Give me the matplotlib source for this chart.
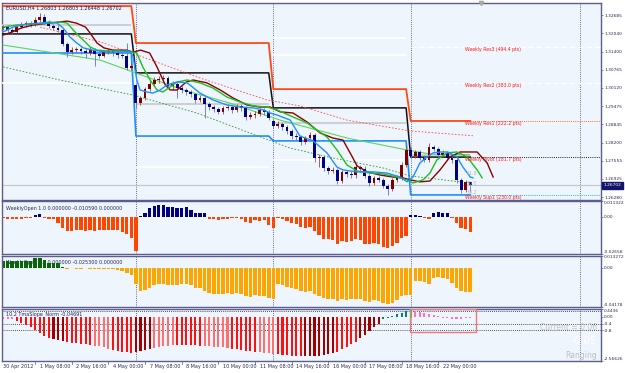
import matplotlib
matplotlib.use("Agg")
import matplotlib.pyplot as plt
from matplotlib.transforms import blended_transform_factory
from matplotlib.patches import Rectangle

plt.rcParams['font.family'] = ['DejaVu Sans']

# ---------------------------------------------------------------- data
title_text = "EURUSD,H4 1.26803 1.26803 1.26448 1.26702"

opens = [1.32158, 1.32228, 1.32263, 1.32158, 1.32088, 1.32263, 1.32334, 1.32404, 1.32334, 1.32509,
         1.32615, 1.32439, 1.32298, 1.32228, 1.32158, 1.31666, 1.31384, 1.31455, 1.31490, 1.31420,
         1.31349, 1.31455, 1.31314, 1.31244, 1.31384, 1.31420, 1.31349, 1.31279, 1.31244, 1.30822,
         1.30224, 1.29592, 1.29767, 1.30084, 1.30260, 1.30400, 1.30435, 1.30471, 1.30189, 1.30260,
         1.30119, 1.30049, 1.29978, 1.29908, 1.29697, 1.29767, 1.29556, 1.29451, 1.29381, 1.29275,
         1.29416, 1.29451, 1.29345, 1.29486, 1.29416, 1.29099, 1.29170, 1.29205, 1.29345, 1.29275,
         1.28959, 1.28783, 1.28853, 1.28748, 1.28607, 1.28431, 1.28396, 1.28220, 1.28361, 1.28466,
         1.27658, 1.27693, 1.27306, 1.27201, 1.27236, 1.26849, 1.27166, 1.27095, 1.27060, 1.27341,
         1.27271, 1.27025, 1.26779, 1.26955, 1.26884, 1.26673, 1.26568, 1.26884, 1.26955, 1.27412,
         1.27939, 1.27728, 1.27869, 1.27658, 1.27588, 1.28045, 1.27974, 1.27763, 1.27834, 1.27658,
         1.27588, 1.26884, 1.26533, 1.26803]
closes = [1.32228, 1.32263, 1.32158, 1.32088, 1.32263, 1.32334, 1.32404, 1.32334, 1.32509, 1.32615,
          1.32439, 1.32298, 1.32228, 1.32158, 1.31666, 1.31384, 1.31455, 1.31490, 1.31420, 1.31349,
          1.31455, 1.31314, 1.31244, 1.31384, 1.31420, 1.31349, 1.31279, 1.31244, 1.30822, 1.30892,
          1.29592, 1.29767, 1.30084, 1.30260, 1.30400, 1.30435, 1.30471, 1.30189, 1.30260, 1.30119,
          1.30049, 1.29978, 1.29908, 1.29697, 1.29767, 1.29556, 1.29451, 1.29381, 1.29275, 1.29416,
          1.29451, 1.29345, 1.29486, 1.29416, 1.29099, 1.29170, 1.29205, 1.29345, 1.29275, 1.29064,
          1.28783, 1.28853, 1.28748, 1.28607, 1.28431, 1.28396, 1.28220, 1.28361, 1.28466, 1.27658,
          1.27693, 1.27306, 1.27201, 1.27236, 1.26849, 1.27166, 1.27095, 1.27060, 1.27341, 1.27271,
          1.27025, 1.26779, 1.26955, 1.26884, 1.26673, 1.26568, 1.26884, 1.26955, 1.27412, 1.27939,
          1.27728, 1.27869, 1.27658, 1.27588, 1.28045, 1.27974, 1.27763, 1.27834, 1.27658, 1.27588,
          1.26884, 1.26533, 1.26803, 1.26702]
highs = [1.32298, 1.32334, 1.32334, 1.32228, 1.32369, 1.32439, 1.32474, 1.32474, 1.32615, 1.32755,
         1.32720, 1.32509, 1.32369, 1.32334, 1.32228, 1.31736, 1.31560, 1.31560, 1.31560, 1.31525,
         1.31560, 1.31525, 1.31420, 1.31455, 1.31490, 1.31490, 1.31455, 1.31384, 1.31701, 1.30998,
         1.30260, 1.29838, 1.30154, 1.30400, 1.30506, 1.30541, 1.30576, 1.30541, 1.30365, 1.30330,
         1.30189, 1.30119, 1.30049, 1.29943, 1.29873, 1.29838, 1.29627, 1.29521, 1.29451, 1.29486,
         1.29556, 1.29521, 1.29556, 1.29556, 1.29486, 1.29275, 1.29310, 1.29416, 1.29416, 1.29345,
         1.29029, 1.28959, 1.28924, 1.28818, 1.28677, 1.28537, 1.28466, 1.28431, 1.28572, 1.28537,
         1.27798, 1.27763, 1.27377, 1.27341, 1.27306, 1.27236, 1.27236, 1.27201, 1.27447, 1.27412,
         1.27377, 1.27095, 1.27025, 1.27025, 1.26955, 1.26744, 1.26955, 1.27060, 1.27517, 1.28115,
         1.28045, 1.27939, 1.27939, 1.27763, 1.28185, 1.28115, 1.28045, 1.27939, 1.27904, 1.27763,
         1.27658, 1.26955, 1.26884, 1.26803]
lows = [1.32123, 1.32158, 1.32088, 1.32017, 1.32052, 1.32228, 1.32263, 1.32263, 1.32298, 1.32439,
        1.32369, 1.32228, 1.32158, 1.32088, 1.31595, 1.31209, 1.31314, 1.31384, 1.31314, 1.31174,
        1.31279, 1.30892, 1.31174, 1.31209, 1.31314, 1.31244, 1.31174, 1.31174, 1.30752, 1.30752,
        1.29416, 1.29521, 1.29697, 1.30013, 1.30189, 1.30295, 1.30330, 1.30119, 1.30049, 1.29767,
        1.29943, 1.29873, 1.29802, 1.29592, 1.29627, 1.29064, 1.29345, 1.29275, 1.29205, 1.29205,
        1.29345, 1.29240, 1.29275, 1.29310, 1.28994, 1.29029, 1.29064, 1.29134, 1.29170, 1.28994,
        1.28713, 1.28713, 1.28642, 1.28502, 1.28326, 1.28291, 1.28115, 1.28150, 1.28291, 1.27517,
        1.27341, 1.27201, 1.27095, 1.27130, 1.26744, 1.26779, 1.26990, 1.26955, 1.26955, 1.27166,
        1.26955, 1.26673, 1.26708, 1.26814, 1.26603, 1.26357, 1.26497, 1.26814, 1.26884, 1.27341,
        1.27658, 1.27658, 1.27588, 1.27517, 1.27517, 1.27904, 1.27693, 1.27693, 1.27588, 1.27482,
        1.26779, 1.26427, 1.26462, 1.26448]
last_price = 1.26702

# moving averages (bar position, price)
ma_slow_x = [1, 3, 5, 7.5, 11, 15, 17, 19, 20, 21.5, 23, 25, 28, 29.4, 31, 33, 34.6, 36.4, 37.5, 39,
             41, 42.5, 45.5, 48.4, 51.2, 54.3, 57, 59.3, 61.5, 64.3, 67.4, 70.2, 73, 75.2, 76.8,
             78.3, 80.5, 83.3, 86.1, 88.3, 89.9, 92, 94.2, 96.4, 98.6, 100.8, 104.5, 106.7, 108]
ma_slow_y = [1.3198, 1.3209, 1.3223, 1.3233, 1.3240, 1.3247, 1.3240, 1.3226, 1.3205, 1.3170,
             1.3153, 1.3145, 1.3145, 1.3138, 1.3145, 1.3135, 1.3086, 1.3023, 1.3005, 1.3005,
             1.3033, 1.3040, 1.3030, 1.3005, 1.2977, 1.2952, 1.2945, 1.2945, 1.2928, 1.2924,
             1.2892, 1.2854, 1.2836, 1.2829, 1.2783, 1.2738, 1.2717, 1.2706, 1.2699, 1.2696,
             1.2689, 1.2682, 1.2685, 1.2724, 1.2770, 1.2787, 1.2787, 1.2748, 1.2699]
ma_mid_x = [1, 4, 7.5, 11.2, 13.4, 15, 16.3, 17.8, 18.9, 20, 21.5, 24.3, 28, 29.4, 30.2, 31.5, 33.1,
            34.6, 35.9, 37.5, 39, 41.2, 44, 46.8, 49.9, 52.7, 55.6, 58.6, 60.8, 64.3, 67.4, 69.5,
            71.7, 73.9, 76.1, 78.3, 81.1, 83.9, 87, 89.2, 90.5, 92.7, 94.2, 95.7, 97.9, 100.1,
            102.3, 104.5, 105.6]
ma_mid_y = [1.3226, 1.3233, 1.3237, 1.3240, 1.3244, 1.3240, 1.3216, 1.3191, 1.3174, 1.3156,
            1.3145, 1.3142, 1.3142, 1.3138, 1.3135, 1.3086, 1.3040, 1.3005, 1.2998, 1.3016,
            1.3033, 1.3040, 1.3030, 1.3012, 1.2980, 1.2963, 1.2949, 1.2945, 1.2935, 1.2910,
            1.2889, 1.2864, 1.2840, 1.2794, 1.2741, 1.2720, 1.2713, 1.2710, 1.2699, 1.2689,
            1.2678, 1.2689, 1.2713, 1.2759, 1.2784, 1.2787, 1.2770, 1.2724, 1.2696]
ma_fast_x = [1, 3.2, 6.2, 9.1, 11.2, 12.8, 14.1, 15.6, 17.1, 18.5, 20.6, 23.7, 26.5, 28.7, 29.4,
             30.2, 30.9, 32.4, 33.7, 35.3, 36.8, 39, 41.2, 44, 46.8, 49.9, 52.7, 55.6, 57.8, 59.3,
             60.8, 63.7, 65.8, 68.7, 71.7, 73.9, 75.2, 78.3, 81.8, 84.8, 87.7, 89.2, 90.5, 92,
             93.6, 94.9, 96.4, 98.1, 100.1, 101.4, 103, 103.6]
ma_fast_y = [1.3209, 1.3226, 1.3237, 1.3240, 1.3244, 1.3240, 1.3223, 1.3191, 1.3170, 1.3153,
             1.3145, 1.3138, 1.3138, 1.3142, 1.3121, 1.3040, 1.3005, 1.2998, 1.2994, 1.3005,
             1.3023, 1.3033, 1.3030, 1.2994, 1.2970, 1.2952, 1.2945, 1.2942, 1.2935, 1.2924,
             1.2917, 1.2899, 1.2843, 1.2826, 1.2784, 1.2734, 1.2724, 1.2717, 1.2717, 1.2713,
             1.2699, 1.2682, 1.2699, 1.2748, 1.2770, 1.2784, 1.2787, 1.2787, 1.2770, 1.2734,
             1.2699, 1.2696]
ma_long_x = [1, 15, 22.2, 29.4, 40.3, 50.5, 61.5, 76.1, 89.2, 94.2, 102.9]
ma_long_y = [1.3163, 1.3128, 1.3110, 1.3068, 1.3005, 1.2959, 1.2899, 1.2836, 1.2794, 1.2780, 1.2777]
env_low_x = [1, 13.4, 29.4, 43.3, 63.6, 73, 83.9, 89.8, 102.9]
env_low_y = [1.3086, 1.3040, 1.2987, 1.2924, 1.2801, 1.2766, 1.2731, 1.2703, 1.2678]
env_high_x = [9.1, 22.2, 31.5, 44, 58.6, 65.8, 76.1, 89.8, 103.6]
env_high_y = [1.3226, 1.3174, 1.3121, 1.3047, 1.2970, 1.2949, 1.2899, 1.2861, 1.2844]

# weekly pivot levels (one value per week)
week_start = [0, 30, 60, 90]
week_end = [29, 59, 89, 103]
res1_lvl = [1.3300, 1.3170, 1.3008, 1.2896]
pivot_lvl = [1.3202, 1.3065, 1.2942, 1.2769]
sup1_lvl = [1.3135, 1.2843, 1.2826, 1.2636]
wopen_lvl = [1.3233, 1.2955, 1.2889, 1.2776]
res2_lvl = [None, None, 1.3128, 1.3030]
res3_lvl = [None, None, 1.3188, 1.3156]
sup2_lvl = [1.3030, 1.2734, 1.2759, None]
pivot_labels = ["Weekly Res3 (494.4 pts)", "Weekly Res2 (383.0 pts)", "Weekly Res1 (222.2 pts)",
                "Weekly Pivot (181.7 pts)", "Weekly Sup1 (230.0 pts)"]
fib_labels = ["61.8", "50.0", "38.2"]
fib_levels = [1.2713, 1.2677, 1.2645]

price_ticks = [1.32685, 1.32040, 1.31400, 1.30765, 1.30120, 1.29475, 1.28845, 1.28200,
               1.27555, 1.26925, 1.26280]

# indicator panels
weekly_open_1 = [-0.0005, -0.0007, -0.0012, -0.0019, -0.0019, -0.0012, -0.0007, -0.0007, 0.0012, 0.0017,
                 -0.0005, -0.0012, -0.0019, -0.0043, -0.0079, -0.0098, -0.0098, -0.0093, -0.0095, -0.0098,
                 -0.0095, -0.0100, -0.0095, -0.0093, -0.0095, -0.0093, -0.0095, -0.0107, -0.0120, -0.0150,
                 -0.0246, 0.0007, 0.0029, 0.0060, 0.0074, 0.0086, 0.0086, 0.0072, 0.0067, 0.0060,
                 0.0060, 0.0069, 0.0050, 0.0024, 0.0024, 0.0024, -0.0012, -0.0017, -0.0024, -0.0012,
                 -0.0019, -0.0007, -0.0005, -0.0019, -0.0036, -0.0043, -0.0024, -0.0031, -0.0026, -0.0055,
                 -0.0079, -0.0007, -0.0012, -0.0031, -0.0043, -0.0050, -0.0074, -0.0079, -0.0074, -0.0098,
                 -0.0131, -0.0155, -0.0160, -0.0167, -0.0191, -0.0172, -0.0177, -0.0172, -0.0160, -0.0167,
                 -0.0191, -0.0196, -0.0184, -0.0196, -0.0215, -0.0225, -0.0210, -0.0186, -0.0150, -0.0136,
                 0.0012, 0.0010, 0.0005, -0.0005, -0.0019, 0.0024, 0.0036, 0.0029, 0.0024, -0.0005,
                 -0.0043, -0.0079, -0.0084, -0.0106]
weekly_open_2 = [0.0070, 0.0078, 0.0078, 0.0074, 0.0078, 0.0074, 0.0070, 0.0074, 0.0106, 0.0106,
                 0.0085, 0.0053, 0.0053, 0.0053, 0.0007, -0.0007, -0.0004, -0.0007, -0.0007, -0.0004,
                 -0.0007, -0.0011, -0.0007, -0.0007, -0.0011, -0.0011, -0.0021, -0.0028, -0.0053, -0.0074,
                 -0.0170, -0.0247, -0.0233, -0.0212, -0.0187, -0.0177, -0.0177, -0.0187, -0.0187, -0.0180,
                 -0.0177, -0.0170, -0.0187, -0.0212, -0.0219, -0.0247, -0.0268, -0.0275, -0.0282, -0.0275,
                 -0.0271, -0.0278, -0.0268, -0.0282, -0.0300, -0.0307, -0.0292, -0.0300, -0.0296, -0.0318,
                 -0.0335, -0.0177, -0.0184, -0.0205, -0.0219, -0.0226, -0.0247, -0.0254, -0.0247, -0.0282,
                 -0.0300, -0.0321, -0.0328, -0.0335, -0.0350, -0.0335, -0.0339, -0.0335, -0.0328, -0.0332,
                 -0.0350, -0.0360, -0.0346, -0.0353, -0.0371, -0.0385, -0.0370, -0.0346, -0.0300, -0.0290,
                 -0.0285, -0.0141, -0.0141, -0.0148, -0.0170, -0.0106, -0.0099, -0.0110, -0.0120, -0.0159,
                 -0.0212, -0.0247, -0.0254, -0.0253]
tma_slope = [-0.12, -0.15, -0.15, -0.15, -0.25, -0.35, -0.5, -0.62, -0.8, -0.95,
             -1.12, -1.22, -1.3, -1.35, -1.42, -1.47, -1.5, -1.53, -1.56, -1.6,
             -1.63, -1.68, -1.72, -1.78, -1.85, -1.92, -1.98, -2.03, -2.07, -2.08,
             -2.03, -1.97, -1.92, -1.86, -1.8, -1.74, -1.7, -1.67, -1.65, -1.64,
             -1.64, -1.64, -1.65, -1.66, -1.67, -1.69, -1.71, -1.73, -1.75, -1.78,
             -1.82, -1.86, -1.89, -1.93, -1.97, -2.0, -2.04, -2.07, -2.1, -2.13,
             -2.16, -2.19, -2.2, -2.23, -2.25, -2.27, -2.28, -2.28, -2.27, -2.26,
             -2.25, -2.22, -2.18, -2.12, -2.03, -1.9, -1.75, -1.6, -1.45, -1.25,
             -1.05, -0.85, -0.62, -0.4, -0.15, -0.1, 0.05, 0.15, 0.22, 0.3,
             0.38, 0.3, 0.25, 0.2, 0.15, 0.08, 0.02, -0.05, -0.1, -0.13,
             -0.13, -0.12, -0.1, -0.05]
tma_state = ("pppp" "rrrrrrrr" "ddd" "rrrrrr" "llll" "rrrrr" "dddd" "lllll" "rrrrrr" "llllll"
             "rrrrrr" "llll" "rrrrrr" "ddddddd" "rrrrr" "ddddd" "tttttt" "g" "ppppppppppppp")

week_separators = [30, 60, 90, 127]
xlab_idx = [0, 8, 16, 24, 32, 40, 48, 56, 64, 72, 80, 88, 96]
xlab_txt = ["30 Apr 2012", "1 May 08:00", "2 May 16:00", "4 May 00:00", "7 May 08:00", "8 May 16:00",
            "10 May 00:00", "11 May 08:00", "14 May 16:00", "16 May 00:00", "17 May 08:00",
            "18 May 16:00", "22 May 00:00"]

# ---------------------------------------------------------------- figure
W, H = 625, 373
fig = plt.figure(figsize=(W / 100, H / 100), dpi=100, facecolor='white')
BG = '#EEF5FC'
FRAME = '#5C5C8E'
TXT = '#2A2A5A'
SEP = '#3C3C7A'
FS = 3.2
XL = (0.76, 131.55)


def make_ax(top, bottom):
    ax = fig.add_axes([2 / W, 1 - bottom / H, 599 / W, (bottom - top) / H])
    ax.set_facecolor(BG)
    ax.set_xlim(*XL)
    for s in ax.spines.values():
        s.set_color(FRAME)
        s.set_linewidth(1.0)
    ax.yaxis.tick_right()
    ax.tick_params(axis='y', length=1.5, width=0.5, color=FRAME, labelsize=FS,
                   labelcolor=TXT, pad=0.8)
    ax.set_xticks([])
    for s in week_separators:
        ax.axvline(s, color=SEP, lw=0.6, ls=(0, (1, 1.6)), zorder=1.5)
    return ax


ax1 = make_ax(3, 200)
ax2 = make_ax(201, 254)
ax3 = make_ax(255.5, 307)
ax4 = make_ax(309, 361)

n = len(closes)
idx = list(range(n))

# ---------------- main panel
ax1.set_ylim(1.26182, 1.33107)
ax1.set_yticks(price_ticks)
ax1.set_yticklabels([f"{p:.5f}" for p in price_ticks])

ax1.axhline(last_price, color='#C4C4C4', lw=0.8, zorder=2)


def week_poly(levels, color, lw, ls='-', z=3):
    for s, e, v in zip(week_start, week_end, levels):
        if v is None:
            continue
        ax1.plot([s, e], [v, v], color=color, lw=lw, ls=ls, zorder=z, solid_capstyle='butt')


def week_steps(levels, color, lw, z=3):
    xs, ys = [], []
    for s, e, v in zip(week_start, week_end, levels):
        xs += [s, e]
        ys += [v, v]
    ax1.plot(xs, ys, color=color, lw=lw, zorder=z)


week_poly(sup2_lvl, 'white', 1.2)
week_poly(res2_lvl[:3], 'white', 1.2)
week_poly(res3_lvl[:3], 'white', 1.2)
ax1.plot([week_start[3], XL[1]], [res2_lvl[3]] * 2, color='white', lw=1.0, ls=(0, (4, 2)), zorder=3)
ax1.plot([week_start[3], XL[1]], [res3_lvl[3]] * 2, color='white', lw=1.0, ls=(0, (4, 2)), zorder=3)
week_poly(wopen_lvl, '#C8C8C8', 1.2)
week_steps(res1_lvl, '#FF4A12', 1.3)
week_steps(pivot_lvl, '#101010', 1.1)
week_steps(sup1_lvl, '#1E8FFF', 1.2)
ext0 = week_end[3]
ax1.plot([ext0, XL[1]], [res1_lvl[3]] * 2, color='#FF6A1A', lw=0.7, ls=(0, (1, 1.2)), zorder=3)
ax1.plot([ext0, XL[1]], [pivot_lvl[3]] * 2, color='#202020', lw=0.7, ls=(0, (1, 1.2)), zorder=3)
ax1.plot([ext0, XL[1]], [sup1_lvl[3]] * 2, color='#1EB4FF', lw=0.7, ls=(0, (1, 1.2)), zorder=3)

# label texts for the weekly levels
lab_levels = [res3_lvl[3], res2_lvl[3], res1_lvl[3], pivot_lvl[3], sup1_lvl[3]]
for t, v in zip(pivot_labels, lab_levels):
    ax1.text(101.9, v, t, fontsize=3.3, color='#FF1A1A', ha='left', va='top', zorder=8)
for t, v in zip(fib_labels, fib_levels):
    ax1.text(102.2, v, t, fontsize=3.4, color='#B8B8B8', ha='left', va='center', zorder=8)

# envelope & moving averages
ax1.plot(env_high_x, env_high_y, color='#FF4C4C', lw=0.6, ls=(0, (2, 2)), zorder=4)
ax1.plot(env_low_x, env_low_y, color='#2E9A2E', lw=0.6, ls=(0, (2, 2)), zorder=4)
ax1.plot(ma_long_x, ma_long_y, color='#5CD65C', lw=0.8, zorder=4)

# candles
bull = [c >= o for o, c in zip(opens, closes)]
body_col = ['#800000' if b else '#000080' for b in bull]
wick_col = ['#9C4848' if b else '#7070B4' for b in bull]
ax1.vlines(idx, lows, highs, colors=wick_col, lw=0.6, zorder=5)
body_h = [max(abs(c - o), 0.00006) for o, c in zip(opens, closes)]
body_b = [min(o, c) for o, c in zip(opens, closes)]
ax1.bar(idx, body_h, bottom=body_b, width=0.62, color=body_col, lw=0, zorder=6)

ax1.plot(ma_slow_x, ma_slow_y, color='#8B0000', lw=1.0, zorder=7)
ax1.plot(ma_mid_x, ma_mid_y, color='#1FBF1F', lw=1.0, zorder=7)
ax1.plot(ma_fast_x, ma_fast_y, color='#1E90FF', lw=1.0, zorder=7)

ax1.text(0.006, 0.988, title_text, transform=ax1.transAxes, fontsize=3.5, color='#1A1A50',
         ha='left', va='top', zorder=9)
ax1.plot([105.3], [1.33107], marker='v', ms=3, color='#A8A8A8', clip_on=False, zorder=10)

bt = blended_transform_factory(ax1.transAxes, ax1.transData)
ax1.text(1.004, last_price, f"{last_price:.5f}", transform=bt, fontsize=FS, color='white',
         ha='left', va='center', clip_on=False, zorder=10,
         bbox=dict(boxstyle='square,pad=0.3', fc='#14146A', ec='#14146A'))

# ---------------- panel 2
ax2.set_ylim(-0.02658, 0.011322)
ax2.bar(idx, weekly_open_1, width=0.72,
        color=['#000080' if v > 0 else '#FF4500' for v in weekly_open_1], lw=0, zorder=2)
ax2.set_yticks([0.011322, 0.0, -0.02658])
ax2.set_yticklabels(['0.011322', '0.00', '-0.02658'])
lbl = ax2.get_yticklabels()
lbl[0].set_va('top')
lbl[2].set_va('bottom')
ax2.text(0.006, 0.86, "WeeklyOpen 1.0 0.000000 -0.010590 0.000000", transform=ax2.transAxes,
         fontsize=3.5, color=TXT, ha='left', va='center', zorder=1)

# ---------------- panel 3
ax3.set_ylim(-0.04178, 0.013272)
ax3.bar(idx, weekly_open_2, width=0.78,
        color=['#0A640A' if v > 0 else '#FFA500' for v in weekly_open_2], lw=0, zorder=2)
ax3.set_yticks([0.013272, 0.0, -0.04178])
ax3.set_yticklabels(['0.013272', '0.00', '-0.04178'])
lbl = ax3.get_yticklabels()
lbl[0].set_va('top')
lbl[2].set_va('bottom')
ax3.text(0.006, 0.87, "WeeklyOpen 2.0 0.000000 -0.025300 0.000000", transform=ax3.transAxes,
         fontsize=3.5, color=TXT, ha='left', va='center', zorder=1)

# ---------------- panel 4
ax4.set_ylim(-2.56626, 0.4436)
state_col = {'p': '#FF6EC7', 'r': '#FF1010', 'd': '#A00000', 'l': '#FF7070',
             't': '#008080', 'g': '#00EE00'}
ax4.bar(idx, tma_slope, width=0.45, color=[state_col[s] for s in tma_state], lw=0, zorder=2)
for lv in (0.3, -0.4, -0.8):
    ax4.axhline(lv, color='#202020', lw=0.6, ls=(0, (1, 1.5)), zorder=1.6)
ax4.set_yticks([0.4436, 0.0, -0.4, -0.8, -2.56626])
ax4.set_yticklabels(['0.4436', '0.00', '-0.4', '-0.8', '-2.56626'])
lbl = ax4.get_yticklabels()
lbl[0].set_va('top')
lbl[4].set_va('bottom')
ax4.add_patch(Rectangle((89.9, -0.87), 14.4, 1.30, fill=False, ec='#F07878', lw=1.0, zorder=3))
ax4.text(0.006, 0.90, "10.2 TmaSlope_Norm -0.04691", transform=ax4.transAxes,
         fontsize=3.5, color=TXT, ha='left', va='center', zorder=4)
ax4.text(0.993, 0.65, "Current = 0.06", transform=ax4.transAxes, fontsize=5.5,
         color='#C4C4C4', ha='right', va='center', zorder=4)
ax4.text(0.993, 0.38, "-0.05", transform=ax4.transAxes, fontsize=7,
         color='white', ha='right', va='center', zorder=4)
ax4.text(0.993, 0.10, "Ranging", transform=ax4.transAxes, fontsize=5.5,
         color='#BEBEBE', ha='right', va='center', zorder=4)

# time axis
tr = blended_transform_factory(ax4.transData, ax4.transAxes)
for i, t in zip(xlab_idx, xlab_txt):
    ax4.text(i + 1.0, -0.10, t, transform=tr, fontsize=3.5, color=TXT, ha='left', va='center',
             clip_on=False)
    ax4.plot([i, i], [0, -0.05], transform=tr, color=FRAME, lw=0.5, clip_on=False)

fig.savefig("out.png", dpi=100, facecolor='white')
